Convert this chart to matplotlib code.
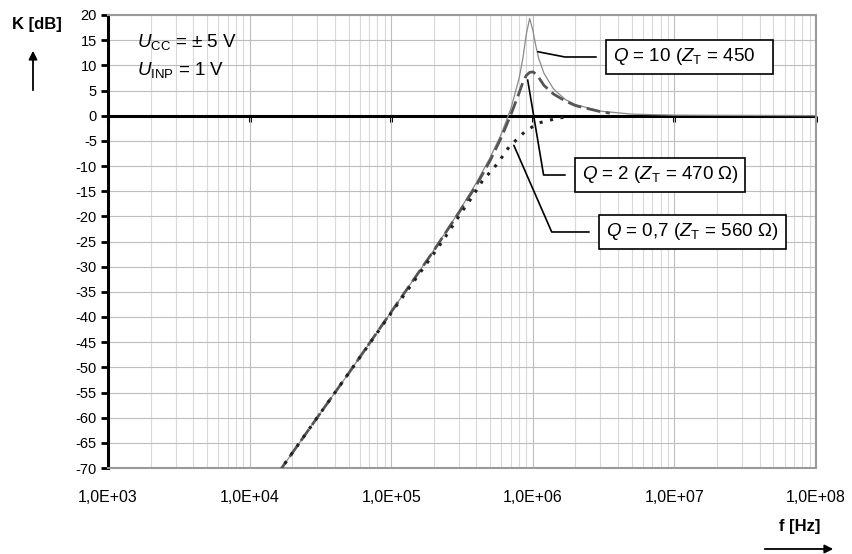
import matplotlib
matplotlib.use("Agg")
import matplotlib.pyplot as plt
from matplotlib.patches import FancyArrowPatch
from matplotlib.ticker import FixedLocator, LogLocator, NullFormatter

plt.rcParams['font.family'] = ['Liberation Sans', 'DejaVu Sans']
plt.rcParams['mathtext.fontset'] = 'custom'
plt.rcParams['mathtext.rm'] = 'Liberation Sans'
plt.rcParams['mathtext.it'] = 'Liberation Sans:italic'
plt.rcParams['axes.unicode_minus'] = False

f_q10 = [1.6e4, 3e4, 5e4, 1e5, 2e5, 3e5, 4e5, 5e5, 6e5, 7e5, 8e5, 8.5e5, 9e5,
         9.5e5, 1.0e6, 1.05e6, 1.1e6, 1.2e6, 1.4e6, 1.7e6, 2e6, 3e6, 5e6, 1e7, 1e8]
k_q10 = [-70.9, -60.0, -51.2, -39.0, -26.7, -19.1, -13.3, -8.3, -3.6, 1.4, 7.4, 11.3, 16.2,
         19.3, 17.0, 13.9, 11.4, 8.4, 5.3, 3.2, 2.2, 0.9, 0.3, 0.1, 0.0]

f_q2 = [1.6e4, 3e4, 5e4, 1e5, 2e5, 3e5, 4e5, 5e5, 6e5, 7e5, 8e5, 8.5e5, 9e5,
        9.5e5, 1.0e6, 1.05e6, 1.1e6, 1.2e6, 1.4e6, 1.7e6, 2e6, 3e6, 3.5e6]
k_q2 = [-70.9, -60.0, -51.2, -39.0, -26.8, -19.3, -13.8, -8.9, -4.3, 0.2, 4.5, 6.6, 8.0,
        8.6, 8.7, 8.3, 7.6, 6.0, 4.3, 2.9, 2.0, 0.8, 0.5]

f_q07 = [1.6e4, 3e4, 5e4, 1e5, 2e5, 2.4e5, 3.1e5, 3.7e5, 4.4e5, 5.6e5, 6.8e5,
         8.7e5, 1.08e6, 1.34e6, 1.53e6, 1.7e6]
k_q07 = [-70.9, -60.0, -51.2, -39.2, -27.4, -24.2, -19.4, -16.3, -13.0, -9.6, -6.2,
         -3.3, -1.5, -0.85, -0.45, -0.3]

x_ticks = [1e3, 1e4, 1e5, 1e6, 1e7, 1e8]
x_labels = ['1,0E+03', '1,0E+04', '1,0E+05', '1,0E+06', '1,0E+07', '1,0E+08']
y_ticks = list(range(-70, 21, 5))

fig = plt.figure(figsize=(8.53, 5.54), dpi=100)
ax = fig.add_axes([108/853, 1 - 468/554, 708/853, 453/554])

ax.set_xscale('log')
ax.set_xlim(1e3, 1e8)
ax.set_ylim(-70, 20)

ax.plot(f_q10, k_q10, color='#8a8a8a', lw=0.9, zorder=3)
ax.plot(f_q2, k_q2, color='#555555', lw=2.0, ls=(0, (5, 2)), zorder=4)
ax.plot(f_q07, k_q07, color='#222222', lw=2.2, ls=(0, (1, 2.5)), zorder=4)

ax.xaxis.set_major_locator(FixedLocator(x_ticks))
ax.xaxis.set_minor_locator(LogLocator(base=10, subs=range(2, 10)))
ax.xaxis.set_minor_formatter(NullFormatter())
ax.set_xticklabels(x_labels, fontsize=11.5)
ax.tick_params(axis='x', which='both', length=0, pad=16)

ax.set_yticks(y_ticks)
ax.set_yticklabels([str(v) for v in y_ticks], fontsize=10.5)
ax.tick_params(axis='y', direction='out', length=5, width=2, pad=3)

ax.grid(which='major', color='#bdbdbd', lw=0.8)
ax.grid(which='minor', axis='x', color='#d9d9d9', lw=0.8)
ax.set_axisbelow(True)

for s in ['top', 'right', 'bottom']:
    ax.spines[s].set_color('#9a9a9a')
    ax.spines[s].set_linewidth(1.5)
ax.spines['left'].set_linewidth(2.2)

# zero line with decade ticks
ax.axhline(0, color='black', lw=2.2, zorder=2.5)
zero = ax.secondary_xaxis(70/90)
zero.set_alignment('bottom')
zero.spines['bottom'].set_visible(False)
zero.xaxis.set_major_locator(FixedLocator(x_ticks))
zero.xaxis.set_minor_locator(FixedLocator([]))
zero.tick_params(which='major', direction='out', length=4, width=2.2, labelbottom=False)

ax.text(0.041, 0.94, r'$U_{\mathrm{CC}}$ = ± 5 V', transform=ax.transAxes,
        fontsize=13.5, va='center', ha='left')
ax.text(0.041, 0.879, r'$U_{\mathrm{INP}}$ = 1 V', transform=ax.transAxes,
        fontsize=13.5, va='center', ha='left')

box = dict(boxstyle='square,pad=0.35', fc='white', ec='black', lw=1.2)
ax.annotate(r'$Q$ = 10 ($Z_{\mathrm{T}}$ = 450   ', xy=(1.087e6, 12.7),
            xytext=(0.7133, 0.9073), textcoords='axes fraction',
            fontsize=13.5, ha='left', va='center', bbox=box,
            arrowprops=dict(arrowstyle='-', lw=1.2, color='black', shrinkA=7, shrinkB=0,
                            connectionstyle='angle,angleA=0,angleB=-11,rad=0'))
ax.annotate(r'$Q$ = 2 ($Z_{\mathrm{T}}$ = 470 Ω)', xy=(9.2e5, 7.1),
            xytext=(0.6695, 0.6468), textcoords='axes fraction',
            fontsize=13.5, ha='left', va='center', bbox=box,
            arrowprops=dict(arrowstyle='-', lw=1.2, color='black', shrinkA=7, shrinkB=0,
                            connectionstyle='angle,angleA=0,angleB=-80.5,rad=0'))
ax.annotate(r'$Q$ = 0,7 ($Z_{\mathrm{T}}$ = 560 Ω) ', xy=(7.35e5, -5.9),
            xytext=(0.7034, 0.5210), textcoords='axes fraction',
            fontsize=13.5, ha='left', va='center', bbox=box,
            arrowprops=dict(arrowstyle='-', lw=1.2, color='black', shrinkA=7, shrinkB=0,
                            connectionstyle='angle,angleA=0,angleB=-66.4,rad=0'))

# axis captions with arrows
fig.text(37/853, 1 - 25/554, 'K [dB]', fontsize=12, fontweight='bold', ha='center', va='center')
fig.add_artist(FancyArrowPatch((33/853, 1 - 93/554), (33/853, 1 - 48/554),
               transform=fig.transFigure, arrowstyle='-|>,head_length=5,head_width=2.5',
               lw=1.3, color='black'))
fig.text(800/853, 1 - 527/554, 'f [Hz]', fontsize=12, fontweight='bold', ha='center', va='center')
fig.add_artist(FancyArrowPatch((762/853, 1 - 549/554), (836/853, 1 - 549/554),
               transform=fig.transFigure, arrowstyle='-|>,head_length=5,head_width=2.5',
               lw=1.3, color='black'))

fig.savefig('out.png', dpi=100)
